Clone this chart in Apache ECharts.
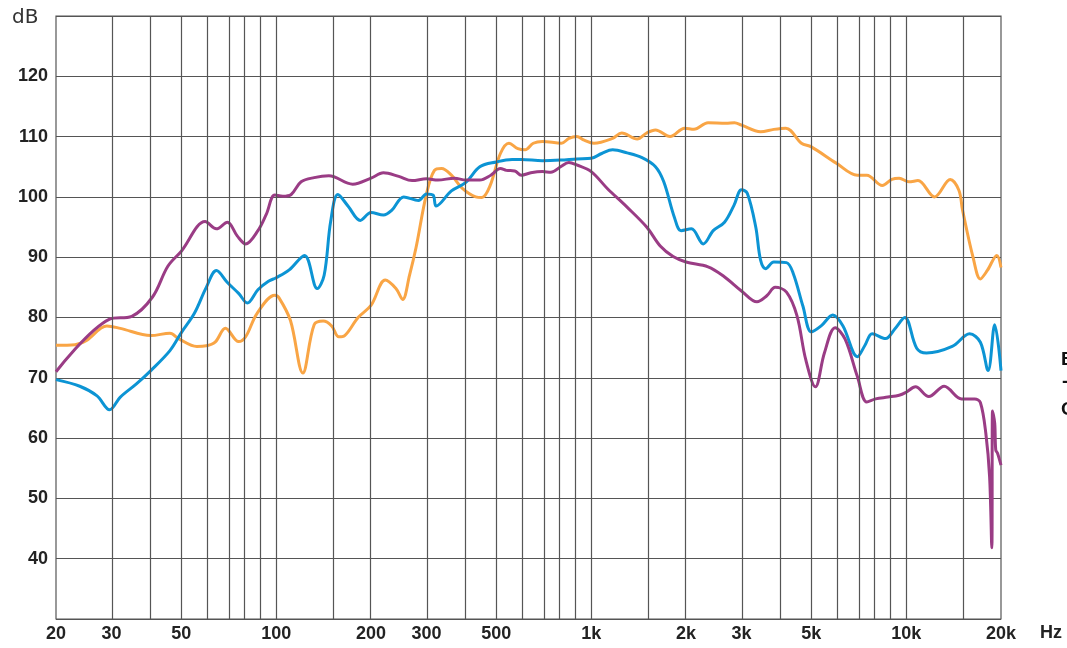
<!DOCTYPE html>
<html>
<head>
<meta charset="utf-8">
<script src="https://cdn.jsdelivr.net/npm/echarts@6/dist/echarts.min.js"></script>
<style>
html,body{margin:0;padding:0;background:#fff;}
#chart{width:1067px;height:648px;}
</style>
</head>
<body>
<div id="chart"></div>
<script>
// Frequency (Hz) / level (dB) pairs
const orangeCurve = [
  [20,75.4],[23,75.5],[25,76.2],[29,78.6],[32,78.2],[40,77.0],[46,77.4],[49,76.5],[56,75.2],[60,75.3],
  [64,75.9],[69,78.2],[76,76.0],[80,76.8],[87,80.7],[99,83.7],[102,83.3],[111,79.5],[121.5,70.8],[132,78.8],
  [141,79.4],[150,78.6],[158,76.8],[165,77.0],[182,80.0],[200,82.0],[222,86.2],[240,84.8],[252,83.0],[265,87.0],
  [278,91.6],[300,100.5],[318,104.4],[335,104.7],[360,103.6],[390,101.4],[430,100.0],[450,99.9],[478,101.9],[515,107.2],
  [548,108.9],[585,108.0],[617,107.8],[655,108.9],[700,109.2],[805,108.9],[850,109.7],[900,110.0],[950,109.4],[1020,108.9],
  [1170,109.7],[1250,110.6],[1400,109.6],[1500,110.6],[1600,111.1],[1780,110.0],[1980,111.4],[2120,111.2],[2350,112.3],[2680,112.2],
  [2850,112.3],[3000,111.9],[3450,110.8],[3800,111.2],[4150,111.4],[4650,108.9],[5000,108.3],[6000,105.6],[7000,103.6],[7500,103.6],
  [8400,101.9],[9000,102.9],[9500,103.1],[10200,102.5],[10900,102.7],[12300,100.0],[13800,102.9],[14700,101.1],[15100,97.8],[16300,90.0],
  [17200,86.4],[18100,87.8],[19400,90.3],[20000,88.3]
];
const blueCurve = [
  [20,69.7],[23.8,68.6],[27,67.0],[29.6,64.7],[32,66.8],[36,69.0],[40,71.2],[46,74.5],[50,77.5],[55,80.7],
  [60,85.0],[64.6,87.8],[70,85.8],[76,84.0],[81,82.4],[87.5,84.6],[94.5,86.0],[100,86.6],[110,87.9],[123,90.3],
  [135,84.8],[142,87.0],[149,96.0],[157,100.4],[169,98.5],[185,96.1],[200,97.4],[219,97.0],[233,97.8],[254,100.0],
  [283,99.4],[300,100.5],[315,100.3],[322,98.5],[360,101.0],[400,102.4],[443,105.0],[500,105.8],[561,106.2],[600,106.2],
  [700,106.0],[800,106.1],[900,106.3],[1000,106.4],[1080,107.2],[1170,107.8],[1300,107.3],[1450,106.5],[1600,105.0],[1700,102.5],
  [1840,96.5],[1930,94.4],[2080,94.7],[2270,92.2],[2440,94.4],[2650,95.8],[2840,98.6],[3000,101.2],[3130,100.6],[3330,95.0],
  [3450,89.5],[3580,88.1],[3800,89.2],[4170,89.1],[4380,87.3],[4700,81.9],[5000,77.6],[5370,78.6],[5850,80.4],[6300,78.6],
  [7000,73.5],[7400,75.4],[7800,77.3],[8600,76.5],[9200,78.1],[9900,80.0],[10800,74.9],[11600,74.1],[14000,75.2],[15900,77.3],
  [17200,75.9],[18200,71.2],[19100,78.8],[20000,71.2]
];
const purpleCurve = [
  [20,71.0],[29.5,79.7],[34.8,80.2],[40.5,83.4],[45.3,88.5],[50,91.0],[59.5,95.9],[64.6,94.7],[70,95.8],[75.3,93.5],
  [80,92.2],[87.5,94.4],[93,97.1],[99,100.3],[105,100.1],[111.6,100.4],[120,102.5],[132,103.2],[147,103.5],[175,102.1],
  [200,103.1],[219,104.0],[245,103.4],[270,102.7],[300,103.0],[326,102.8],[368,103.1],[400,102.8],[443,102.8],[480,103.6],
  [515,104.7],[538,104.4],[572,104.3],[600,103.6],[643,104.0],[700,104.2],[745,104.1],[800,105.0],[849,105.7],[900,105.3],
  [1000,104.2],[1125,101.4],[1300,98.3],[1500,95.0],[1660,91.8],[1820,90.1],[2000,89.2],[2350,88.4],[2640,86.8],[3000,84.4],[3360,82.6],
  [3610,83.6],[3840,85.0],[4170,84.2],[4500,80.3],[4800,73.0],[5150,68.5],[5500,74.1],[5950,78.3],[6400,76.4],[7000,70.2],
  [7500,66.0],[8000,66.5],[8750,66.8],[9500,67.1],[10000,67.6],[10700,68.5],[11800,66.9],[13200,68.6],[15000,66.5],[16500,66.5],
  [17200,65.9],[17900,60.8],[18400,53.6],[18700,41.8],[18800,64.5],[19100,62.5],[19250,58.0],[19500,57.5],[20000,55.5]
];
const gridFreqs = [30,40,50,60,70,80,90,100,150,200,300,400,500,600,700,800,900,1000,1500,2000,3000,4000,5000,6000,7000,8000,9000,10000,15000];
const labelFreqs = [20,30,50,100,200,300,500,1000,2000,3000,5000,10000,20000];
const dbMin = 30, dbMax = 130, dbStep = 10;

const L = Math.log10;
const toXY = arr => arr.map(p => [L(p[0]), p[1]]);
const fmtFreq = v => {
  const f = Math.round(Math.pow(10, v));
  return f >= 1000 ? (f / 1000) + 'k' : String(f);
};
const gridColor = '#555555';
const lineSeries = (name, data, color) => ({
  name, type: 'line', data: toXY(data), showSymbol: false, symbol: 'none',
  smooth: 0.35, z: 3,
  lineStyle: { color, width: 3 }
});

const chart = echarts.init(document.getElementById('chart'), null, { renderer: 'canvas' });
chart.setOption({
  animation: false,
  backgroundColor: '#ffffff',
  grid: { left: 56, right: 66, top: 16, bottom: 29, show: true, borderColor: gridColor, borderWidth: 1.2, backgroundColor: 'transparent' },
  xAxis: {
    type: 'value', min: L(20), max: L(20000),
    axisLine: { show: false }, axisTick: { show: false }, splitLine: { show: false },
    axisLabel: {
      customValues: labelFreqs.map(L), formatter: fmtFreq, margin: 6,
      fontFamily: 'Liberation Sans', fontWeight: 'bold', fontSize: 18, color: '#222'
    }
  },
  yAxis: {
    type: 'value', min: dbMin, max: dbMax, interval: dbStep,
    axisLine: { show: false }, axisTick: { show: false },
    splitLine: { show: true, lineStyle: { color: gridColor, width: 1.2 } },
    axisLabel: {
      margin: 8, fontFamily: 'Liberation Sans', fontWeight: 'bold', fontSize: 18, color: '#222',
      formatter: v => (v === dbMin || v === dbMax) ? '' : String(v)
    }
  },
  series: [
    {
      type: 'line', data: [], z: 1, silent: true,
      markLine: {
        silent: true, symbol: 'none', label: { show: false },
        lineStyle: { type: 'solid', color: gridColor, width: 1.2 },
        emphasis: { disabled: true },
        data: gridFreqs.map(f => ({ xAxis: L(f) }))
      }
    },
    lineSeries('orange', orangeCurve, '#F9A545'),
    lineSeries('blue', blueCurve, '#0C94D4'),
    lineSeries('purple', purpleCurve, '#9A3C85')
  ],
  graphic: [
    { type: 'text', left: 12, top: 8, style: { text: 'dB', font: '20px "DejaVu Sans"', fill: '#333' } },
    { type: 'text', left: 1040, top: 624, style: { text: 'Hz', font: 'bold 18px "Liberation Sans"', fill: '#222' } },
    { type: 'text', left: 1061, top: 350, style: { text: 'B', font: 'bold 19px "Liberation Sans"', fill: '#111' } },
    { type: 'text', left: 1062, top: 372, style: { text: '-', font: 'bold 19px "Liberation Sans"', fill: '#111' } },
    { type: 'text', left: 1061, top: 400, style: { text: 'C', font: 'bold 19px "Liberation Sans"', fill: '#111' } }
  ]
});
</script>
</body>
</html>
